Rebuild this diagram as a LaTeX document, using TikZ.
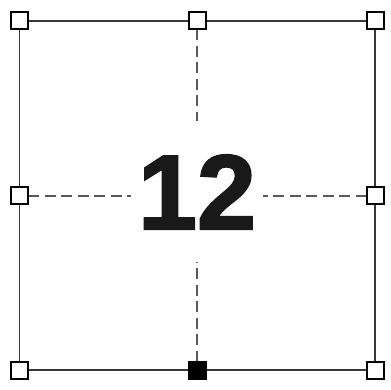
\documentclass[tikz,border=0pt]{standalone}
\usetikzlibrary{backgrounds}
\usepackage{fontspec}
\newfontfamily\heavyfont[FakeBold=2]{Liberation Sans Bold}
\begin{document}
\begin{tikzpicture}[x=1pt,y=-1pt,
  handle/.style={draw=black,fill=white,line width=2pt,minimum size=17pt,inner sep=0pt,outer sep=0pt},
  handlefilled/.style={handle,fill=black},
  frame/.style={draw=black!78,line width=1.8pt},
  guide/.style={draw=black!65,line width=1.9pt,dash pattern=on 11pt off 5.5pt}]
\useasboundingbox (0,0) rectangle (391,390);
\node[handle] (h1) at (19.5,21) {};
\node[handle] (h2) at (197,21) {};
\node[handle] (h3) at (375,21) {};
\node[handle] (h4) at (19.5,196) {};
\node[handle] (h5) at (375,196) {};
\node[handle] (h6) at (19.5,370) {};
\node[handlefilled] (h7) at (197,370) {};
\node[handle] (h8) at (375,370) {};
\coordinate (hl) at (131,196);
\coordinate (hr) at (263,196);
\coordinate (vt) at (197,121);
\coordinate (vb) at (197,262);
\node[anchor=base,inner sep=0pt,text=black!90] (num) at (197,229) {\fontsize{106}{106}\heavyfont 12};
\begin{pgfonlayer}{background}
\draw[frame] (h1) -- (h2) -- (h3) -- (h5) -- (h8) -- (h7) -- (h6) -- (h4) -- (h1);
\draw[guide] (h4) -- (hl);
\draw[guide] (h5) -- (hr);
\draw[guide] (h2) -- (vt);
\draw[guide] (h7) -- (vb);
\end{pgfonlayer}
\end{tikzpicture}
\end{document}
